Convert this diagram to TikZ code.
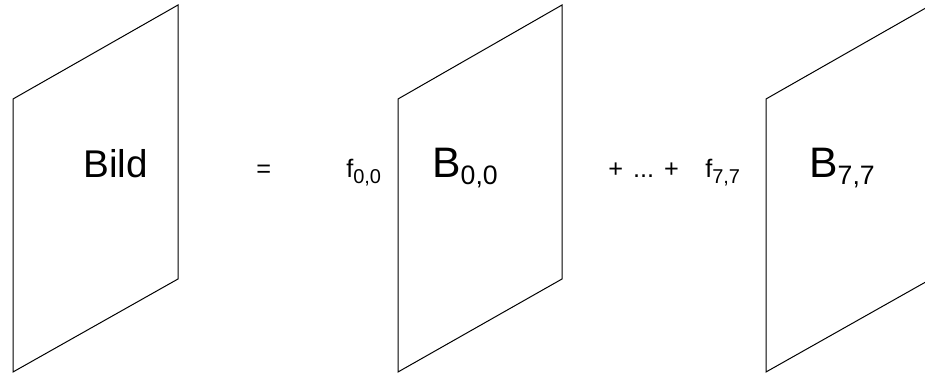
\documentclass[tikz,border=0pt]{standalone}
\usepackage{fontspec}
\setmainfont{Liberation Sans}
\newcommand{\pedice}[3]{\raisebox{#1}{\fontsize{#2}{#2}\selectfont #3}}

\begin{document}
\begin{tikzpicture}[x=0.75pt,y=-0.75pt,
    quadro/.style={line width=0.75pt,line join=miter},
    testo/.style={inner sep=0pt,anchor=base west},
    grande/.style={testo,font=\fontsize{32pt}{34pt}\selectfont},
    piccolo/.style={testo,font=\fontsize{19pt}{21pt}\selectfont}]
    \useasboundingbox (0,0) rectangle (925,377);
    \clip (0,0) rectangle (925,377);

    %quadro bild
    \draw[quadro] (13,99)--(178,5)--(178,279)--(13,372)--cycle;
    %quadro B00
    \draw[quadro] (398,99)--(562,5)--(562,279)--(398,372)--cycle;
    %quadro B77
    \draw[quadro] (766,99)--(931,5)--(931,279)--(766,372)--cycle;

    %testi
    \node[grande,font=\fontsize{29pt}{31pt}\selectfont] (bild) at (83,178) {Bild};
    \node[piccolo] (uguale) at (256,178) {=};
    \node[piccolo] (f00) at (346,178) {f\pedice{-4pt}{15pt}{0,0}};
    \node[grande] (b00) at (432,178) {B\pedice{-5pt}{20pt}{0,0}};
    \node[piccolo] (puntini) at (608,178) {+\hspace{7.5pt}...\hspace{7.5pt}+};
    \node[piccolo] (f77) at (705,178) {f\pedice{-4pt}{15pt}{7,7}};
    \node[grande] (b77) at (809,178) {B\pedice{-5pt}{20pt}{7,7}};
\end{tikzpicture}
\end{document}
